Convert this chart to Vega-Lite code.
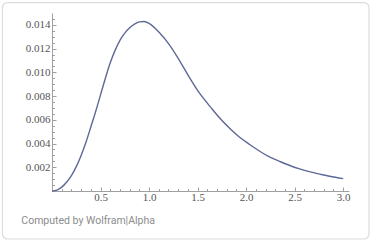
{
  "$schema": "https://vega.github.io/schema/vega-lite/v6.json",
  "width": 297,
  "height": 178,
  "autosize": "none",
  "padding": {"left": 52, "top": 13, "right": 23, "bottom": 51},
  "background": "white",
  "config": {
    "view": {"stroke": null},
    "axis": {"labelFont": "Liberation Serif", "labelFontSize": 11, "labelColor": "#555555", "tickColor": "#a0a0a0", "domainColor": "#a0a0a0", "grid": false, "title": null, "labelOverlap": false, "labelFlush": false, "labelPadding": 6, "labelBound": false}
  },
  "resolve": {"scale": {"x": "independent", "y": "independent"}, "axis": {"x": "independent", "y": "independent"}},
  "layer": [
    {
      "data": {"values": [
        {"x": 0, "y": 0},
        {"x": 0.05, "y": 0.00008},
        {"x": 0.1, "y": 0.00033},
        {"x": 0.15, "y": 0.00074},
        {"x": 0.2, "y": 0.0013},
        {"x": 0.25, "y": 0.00205},
        {"x": 0.3, "y": 0.003},
        {"x": 0.35, "y": 0.0041},
        {"x": 0.4, "y": 0.0054},
        {"x": 0.45, "y": 0.0067},
        {"x": 0.5, "y": 0.0081},
        {"x": 0.55, "y": 0.0095},
        {"x": 0.6, "y": 0.0108},
        {"x": 0.65, "y": 0.01185},
        {"x": 0.7, "y": 0.0127},
        {"x": 0.75, "y": 0.0133},
        {"x": 0.8, "y": 0.01375},
        {"x": 0.85, "y": 0.01407},
        {"x": 0.9, "y": 0.01425},
        {"x": 0.95, "y": 0.01428},
        {"x": 1.0, "y": 0.01412},
        {"x": 1.11, "y": 0.01331},
        {"x": 1.21, "y": 0.01232},
        {"x": 1.32, "y": 0.01091},
        {"x": 1.42, "y": 0.00951},
        {"x": 1.52, "y": 0.00824},
        {"x": 1.63, "y": 0.00711},
        {"x": 1.73, "y": 0.00613},
        {"x": 1.83, "y": 0.00529},
        {"x": 1.93, "y": 0.00455},
        {"x": 2.04, "y": 0.0039},
        {"x": 2.14, "y": 0.00335},
        {"x": 2.24, "y": 0.00287},
        {"x": 2.35, "y": 0.00248},
        {"x": 2.45, "y": 0.00215},
        {"x": 2.55, "y": 0.00187},
        {"x": 2.65, "y": 0.00163},
        {"x": 2.76, "y": 0.00142},
        {"x": 2.86, "y": 0.00124},
        {"x": 3.0, "y": 0.00104}
      ]},
      "mark": {"type": "line", "color": "#5f6897", "strokeWidth": 1.4, "interpolate": "monotone"},
      "encoding": {
        "x": {
          "field": "x", "type": "quantitative",
          "scale": {"domain": [0, 3.06], "nice": false, "zero": false},
          "axis": {
            "orient": "bottom",
            "values": [0.1,0.2,0.3,0.4,0.5,0.6,0.7,0.8,0.9,1.0,1.1,1.2,1.3,1.4,1.5,1.6,1.7,1.8,1.9,2.0,2.1,2.2,2.3,2.4,2.5,2.6,2.7,2.8,2.9,3.0],
            "labelExpr": "round(datum.value*10) % 5 == 0 ? format(datum.value, '.1f') : ''",
            "tickSize": {"condition": {"test": "round(datum.value*10) % 5 == 0", "value": -4}, "value": -2.5},
            "labelOverlap": false,
            "labelPadding": 4
          }
        },
        "y": {
          "field": "y", "type": "quantitative",
          "scale": {"domain": [0, 0.015], "nice": false, "zero": false},
          "axis": {
            "orient": "left",
            "values": [0.0005,0.001,0.0015,0.002,0.0025,0.003,0.0035,0.004,0.0045,0.005,0.0055,0.006,0.0065,0.007,0.0075,0.008,0.0085,0.009,0.0095,0.01,0.0105,0.011,0.0115,0.012,0.0125,0.013,0.0135,0.014,0.0145],
            "labelExpr": "round(datum.value*2000) % 4 == 0 ? format(datum.value, '.3f') : ''",
            "tickSize": {"condition": {"test": "round(datum.value*2000) % 4 == 0", "value": -4}, "value": -2.5},
            "labelOverlap": false
          }
        }
      }
    },
    {
      "data": {"values": [{"label": "frame"}]},
      "mark": {"type": "rect", "fill": "transparent", "stroke": "#dcdcdc", "strokeWidth": 1.2, "cornerRadius": 5, "clip": false},
      "encoding": {
        "x": {"datum": -0.51, "axis": null, "scale": {"domain": [0, 3.06], "nice": false, "zero": false}},
        "x2": {"datum": 3.266},
        "y": {"datum": 0.01588, "axis": null, "scale": {"domain": [0, 0.015], "nice": false, "zero": false}},
        "y2": {"datum": -0.004045}
      }
    },
    {
      "data": {"values": [{"t": "Computed by Wolfram|Alpha"}]},
      "mark": {"type": "text", "align": "left", "baseline": "alphabetic", "font": "Roboto", "fontSize": 10.5, "color": "#8c8c8c", "clip": false},
      "encoding": {
        "x": {"datum": -0.316, "axis": null, "scale": {"domain": [0, 3.06], "nice": false, "zero": false}},
        "y": {"datum": -0.00281, "axis": null, "scale": {"domain": [0, 0.015], "nice": false, "zero": false}},
        "text": {"field": "t"}
      }
    }
  ]
}
